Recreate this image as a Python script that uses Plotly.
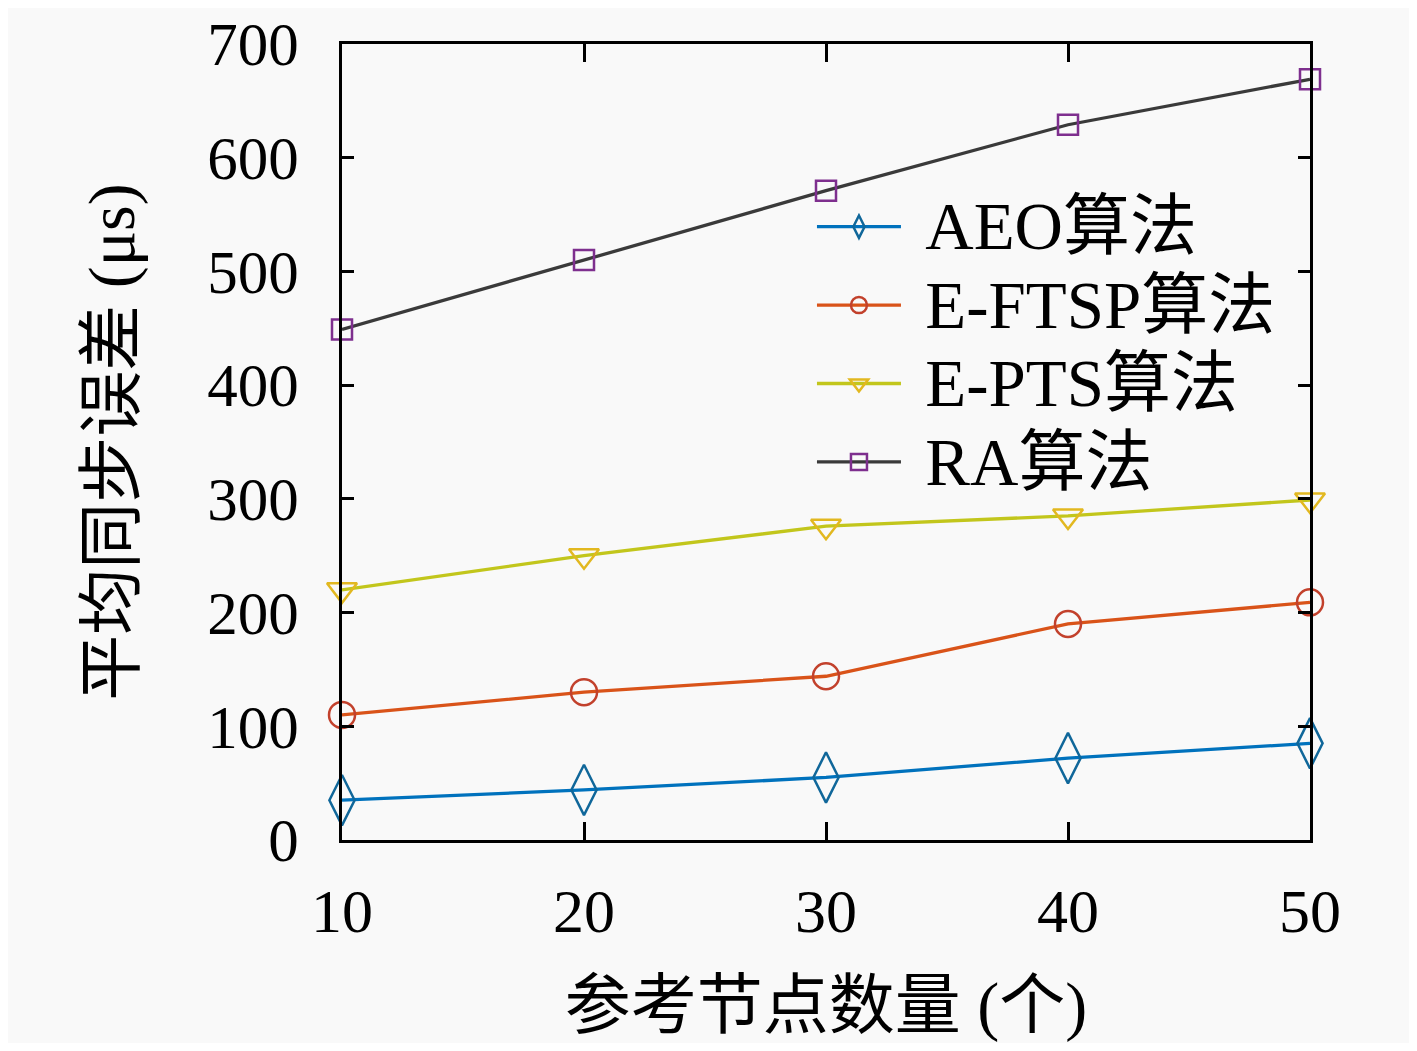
import plotly.graph_objects as go

nodes = [10, 20, 30, 40, 50]
aeo = [35, 44, 55, 72, 85]
eftsp = [110, 130, 144, 190, 209]
epts = [220, 250, 276, 285, 299]
ra = [449, 510, 571, 629, 669]

names = ["AEO算法", "E-FTSP算法", "E-PTS算法", "RA算法"]
series = [aeo, eftsp, epts, ra]
line_colors = ["#0072BD", "#D95319", "#C2C61C", "#3A3A3A"]
marker_colors = ["#10679A", "#C2412C", "#E2B820", "#7E2F8E"]
symbols = ["diamond-tall-open", "circle-open", "triangle-down-open", "square-open"]
sizes = [36, 26, 26, 20]

SERIF = "Liberation Serif, Noto Sans CJK SC, serif"

fig = go.Figure()
for n, s, lc, mc, sym, sz in zip(names, series, line_colors, marker_colors, symbols, sizes):
    fig.add_trace(go.Scatter(
        x=nodes, y=s, name='\u2004<span style="font-size:67px">' + n + '</span>',
        mode="lines+markers",
        line=dict(color=lc, width=3.3),
        marker=dict(symbol=sym, size=sz, color=mc, line=dict(width=2.5, color=mc)),
        cliponaxis=False,
    ))

axis_common = dict(
    showline=True, linecolor="black", linewidth=3, mirror="ticks",
    ticks="inside", tickcolor="black", tickwidth=3,
    showgrid=False, zeroline=False, ticklabeloverflow="allow", automargin=False,
)

fig.update_layout(
    width=1401, height=1035,
    margin=dict(l=334, r=99, t=36, b=203, autoexpand=False),
    paper_bgcolor="#f9f9f9", plot_bgcolor="#f9f9f9",
    font=dict(family=SERIF, color="black"),
    xaxis=dict(range=[10, 50], tickvals=nodes, ticklen=18,
               ticklabelstandoff=15,
               tickfont=dict(family=SERIF, size=62, color="black"),
               title=dict(text="参考节点数量 (个)", font=dict(family=SERIF, size=66), standoff=38),
               **axis_common),
    yaxis=dict(range=[0, 700], dtick=100, ticklen=12,
               ticklabelstandoff=28,
               tickfont=dict(family=SERIF, size=61, color="black"),
               title=dict(text="平均同步误差 (μs)", font=dict(family=SERIF, size=66), standoff=52),
               **axis_common),
    legend=dict(x=0.4855, y=0.826, xanchor="left", yanchor="top",
                bgcolor="rgba(0,0,0,0)", borderwidth=0,
                font=dict(family=SERIF, size=58, color="black"),
                itemwidth=84, tracegroupgap=0),
    showlegend=True,
)

fig.write_html("out.html")
